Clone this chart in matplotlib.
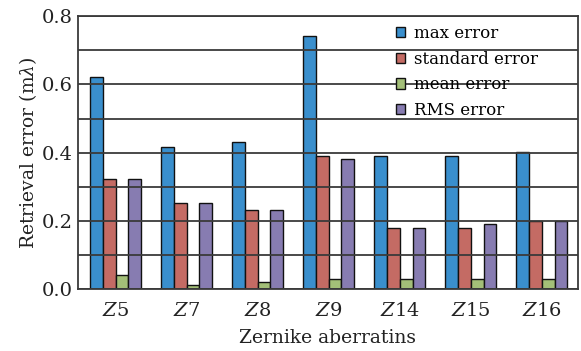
import numpy as np
import matplotlib.pyplot as plt
from matplotlib.ticker import MultipleLocator

plt.rcParams['font.family'] = 'DejaVu Serif'
plt.rcParams['mathtext.fontset'] = 'dejavuserif'

# data
aberrations = ['5', '7', '8', '9', '14', '15', '16']
max_err = [0.621, 0.418, 0.430, 0.742, 0.390, 0.390, 0.401]
std_err = [0.322, 0.252, 0.232, 0.390, 0.179, 0.179, 0.200]
mean_err = [0.041, 0.012, 0.022, 0.029, 0.029, 0.029, 0.029]
rms_err = [0.322, 0.252, 0.232, 0.382, 0.179, 0.191, 0.200]

series = [max_err, std_err, mean_err, rms_err]
names = ['max error', 'standard error', 'mean error', 'RMS error']
colors = ['#3a8fcd', '#c46b64', '#a3bf78', '#877cb1']

fig = plt.figure(figsize=(5.81, 3.51), dpi=100)
ax = fig.add_axes([0.134, 0.176, 0.861, 0.778])

x = np.arange(len(aberrations))
w = 0.18
for i, (vals, name, c) in enumerate(zip(series, names, colors)):
    ax.bar(x + (i - 1.5) * w, vals, w, color=c, edgecolor='#111111',
           linewidth=1.0, label=name, zorder=1)

ax.set_xlim(-0.53, 6.51)
ax.set_ylim(0, 0.8)
ax.yaxis.set_major_locator(MultipleLocator(0.2))
ax.yaxis.set_minor_locator(MultipleLocator(0.1))
ax.set_yticks(np.arange(0, 0.81, 0.2))
ax.set_yticklabels(['%.1f' % v for v in np.arange(0, 0.81, 0.2)])
ax.grid(axis='y', which='both', color='#3a3a3a', linewidth=1.3)
ax.set_axisbelow(False)
ax.set_xticks(x)
ax.set_xticklabels(['$Z$' + a for a in aberrations])
ax.tick_params(axis='both', which='both', length=0, labelsize=14, colors='#222222')
ax.tick_params(axis='x', pad=9)
ax.tick_params(axis='y', pad=4)
for s in ax.spines.values():
    s.set_color('#3a3a3a')
    s.set_linewidth(1.3)

ax.set_xlabel('Zernike aberratins', fontsize=13.5, color='#222222', labelpad=7)
ax.set_ylabel('Retrieval error (m$\\lambda$)', fontsize=13.5, color='#222222',
              labelpad=2)

ax.legend(loc='upper left', bbox_to_anchor=(0.613, 1.01), frameon=False,
          fontsize=12, handlelength=0.55, handleheight=0.55,
          handletextpad=0.5, labelspacing=0.52, borderaxespad=0.3)

fig.savefig('out.png', dpi=100)
